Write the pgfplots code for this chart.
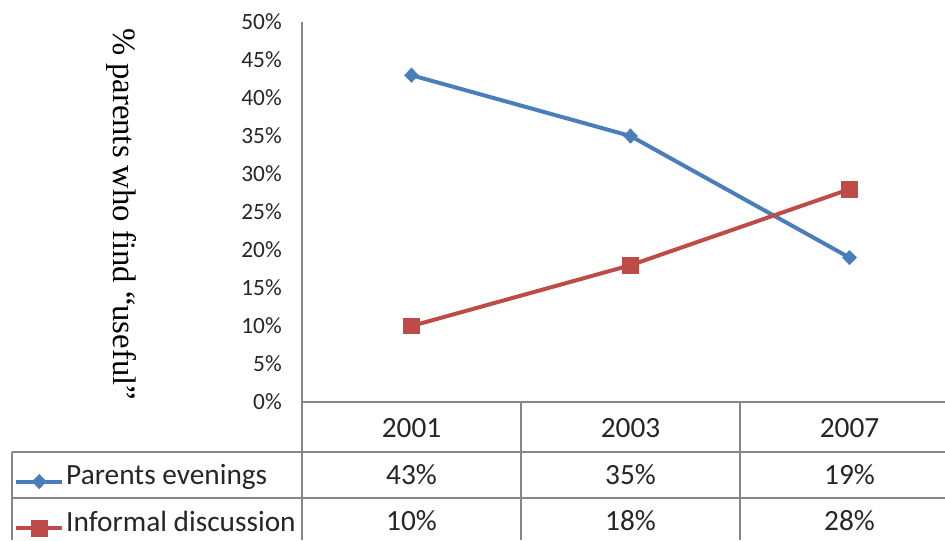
\documentclass[border=0pt]{standalone}
\usepackage{pgfplots}
\usepackage{pgfplotstable}
\pgfplotsset{compat=1.18}
\usepackage{fontspec}
\setmainfont{Carlito}
\newfontfamily\timesfont{Liberation Serif}

\definecolor{serA}{RGB}{74,126,187}
\definecolor{serB}{RGB}{190,75,72}
\definecolor{gridgray}{RGB}{134,134,134}
\definecolor{txt}{RGB}{38,38,38}

% share of parents (%) by survey year
\pgfplotstableread{
year pe id
2001 43 10
2003 35 18
2007 19 28
}\datatable

\begin{document}
\begin{tikzpicture}
\useasboundingbox (0pt,0pt) rectangle (708.75pt,-405pt);
\clip (0pt,0pt) rectangle (708.75pt,-405pt);

\begin{axis}[
  at={(226.5pt,-301.5pt)}, anchor=origin,
  scale only axis,
  width=492.75pt, height=285pt,
  xmin=0, xmax=3, ymin=0, ymax=50,
  axis lines=left,
  axis line style={draw=none},
  xtick=\empty,
  ytick={0,5,...,50},
  major tick length=0pt,
  yticklabel={\pgfmathprintnumber{\tick}\%},
  /pgf/number format/assume math mode=true,
  yticklabel style={font=\fontsize{17.5}{19}\selectfont, text=txt, inner sep=0pt},
  yticklabel shift=15pt,
  clip=false,
  legend cell align=left,
  legend style={draw=none, fill=none, at={(-0.4384,-0.19)}, anchor=north west,
    font=\fontsize{22}{24}\selectfont, text=txt,
    nodes={inner sep=0pt, text height=0.75em, text depth=0.25em},
    row sep=24pt, inner sep=0pt},
  legend image code/.code={%
    \draw[mark repeat=2, mark phase=2] plot coordinates {(0pt,0pt) (17.25pt,0pt) (34.5pt,0pt)};
    \path (36pt,0pt);},
]
\addplot[serA, line width=3pt, mark=diamond*, mark size=5.3pt,
  mark options={solid, fill=serA, line width=0.5pt, xscale=1.3}]
  table[x expr=\coordindex+0.5, y=pe] {\datatable};
\addlegendentry{Parents evenings}
\addplot[serB, line width=3pt, mark=square*, mark size=5.8pt,
  mark options={solid, fill=serB, line width=0.5pt}]
  table[x expr=\coordindex+0.5, y=id] {\datatable};
\addlegendentry{Informal discussion}
\end{axis}

\begin{scope}[x=0.75pt,y=-0.75pt]
% data table grid
\begin{scope}[draw=gridgray, line width=1.2pt]
  \draw (302,22) -- (302,540);
  \draw (302,402) -- (945,402);
  \draw (12,452) -- (945,452);
  \draw (12,498) -- (945,498);
  \draw (12,452) -- (12,540);
  \draw (521,402) -- (521,540);
  \draw (740,402) -- (740,540);
\end{scope}

% data table values
\foreach \i in {0,1,2}{
  \pgfplotstablegetelem{\i}{year}\of\datatable
  \node[font=\fontsize{22}{24}\selectfont, text=txt] at ({411.5+219*\i},428) {\pgfplotsretval};
  \pgfplotstablegetelem{\i}{pe}\of\datatable
  \node[font=\fontsize{22}{24}\selectfont, text=txt] at ({411.5+219*\i},475) {\pgfplotsretval\%};
  \pgfplotstablegetelem{\i}{id}\of\datatable
  \node[font=\fontsize{22}{24}\selectfont, text=txt] at ({411.5+219*\i},521) {\pgfplotsretval\%};
}

% axis title
\node[rotate=-90, font=\timesfont\fontsize{24.5}{28}\selectfont] at (122,214) {\% parents who find “useful”};
\end{scope}
\end{tikzpicture}
\end{document}
